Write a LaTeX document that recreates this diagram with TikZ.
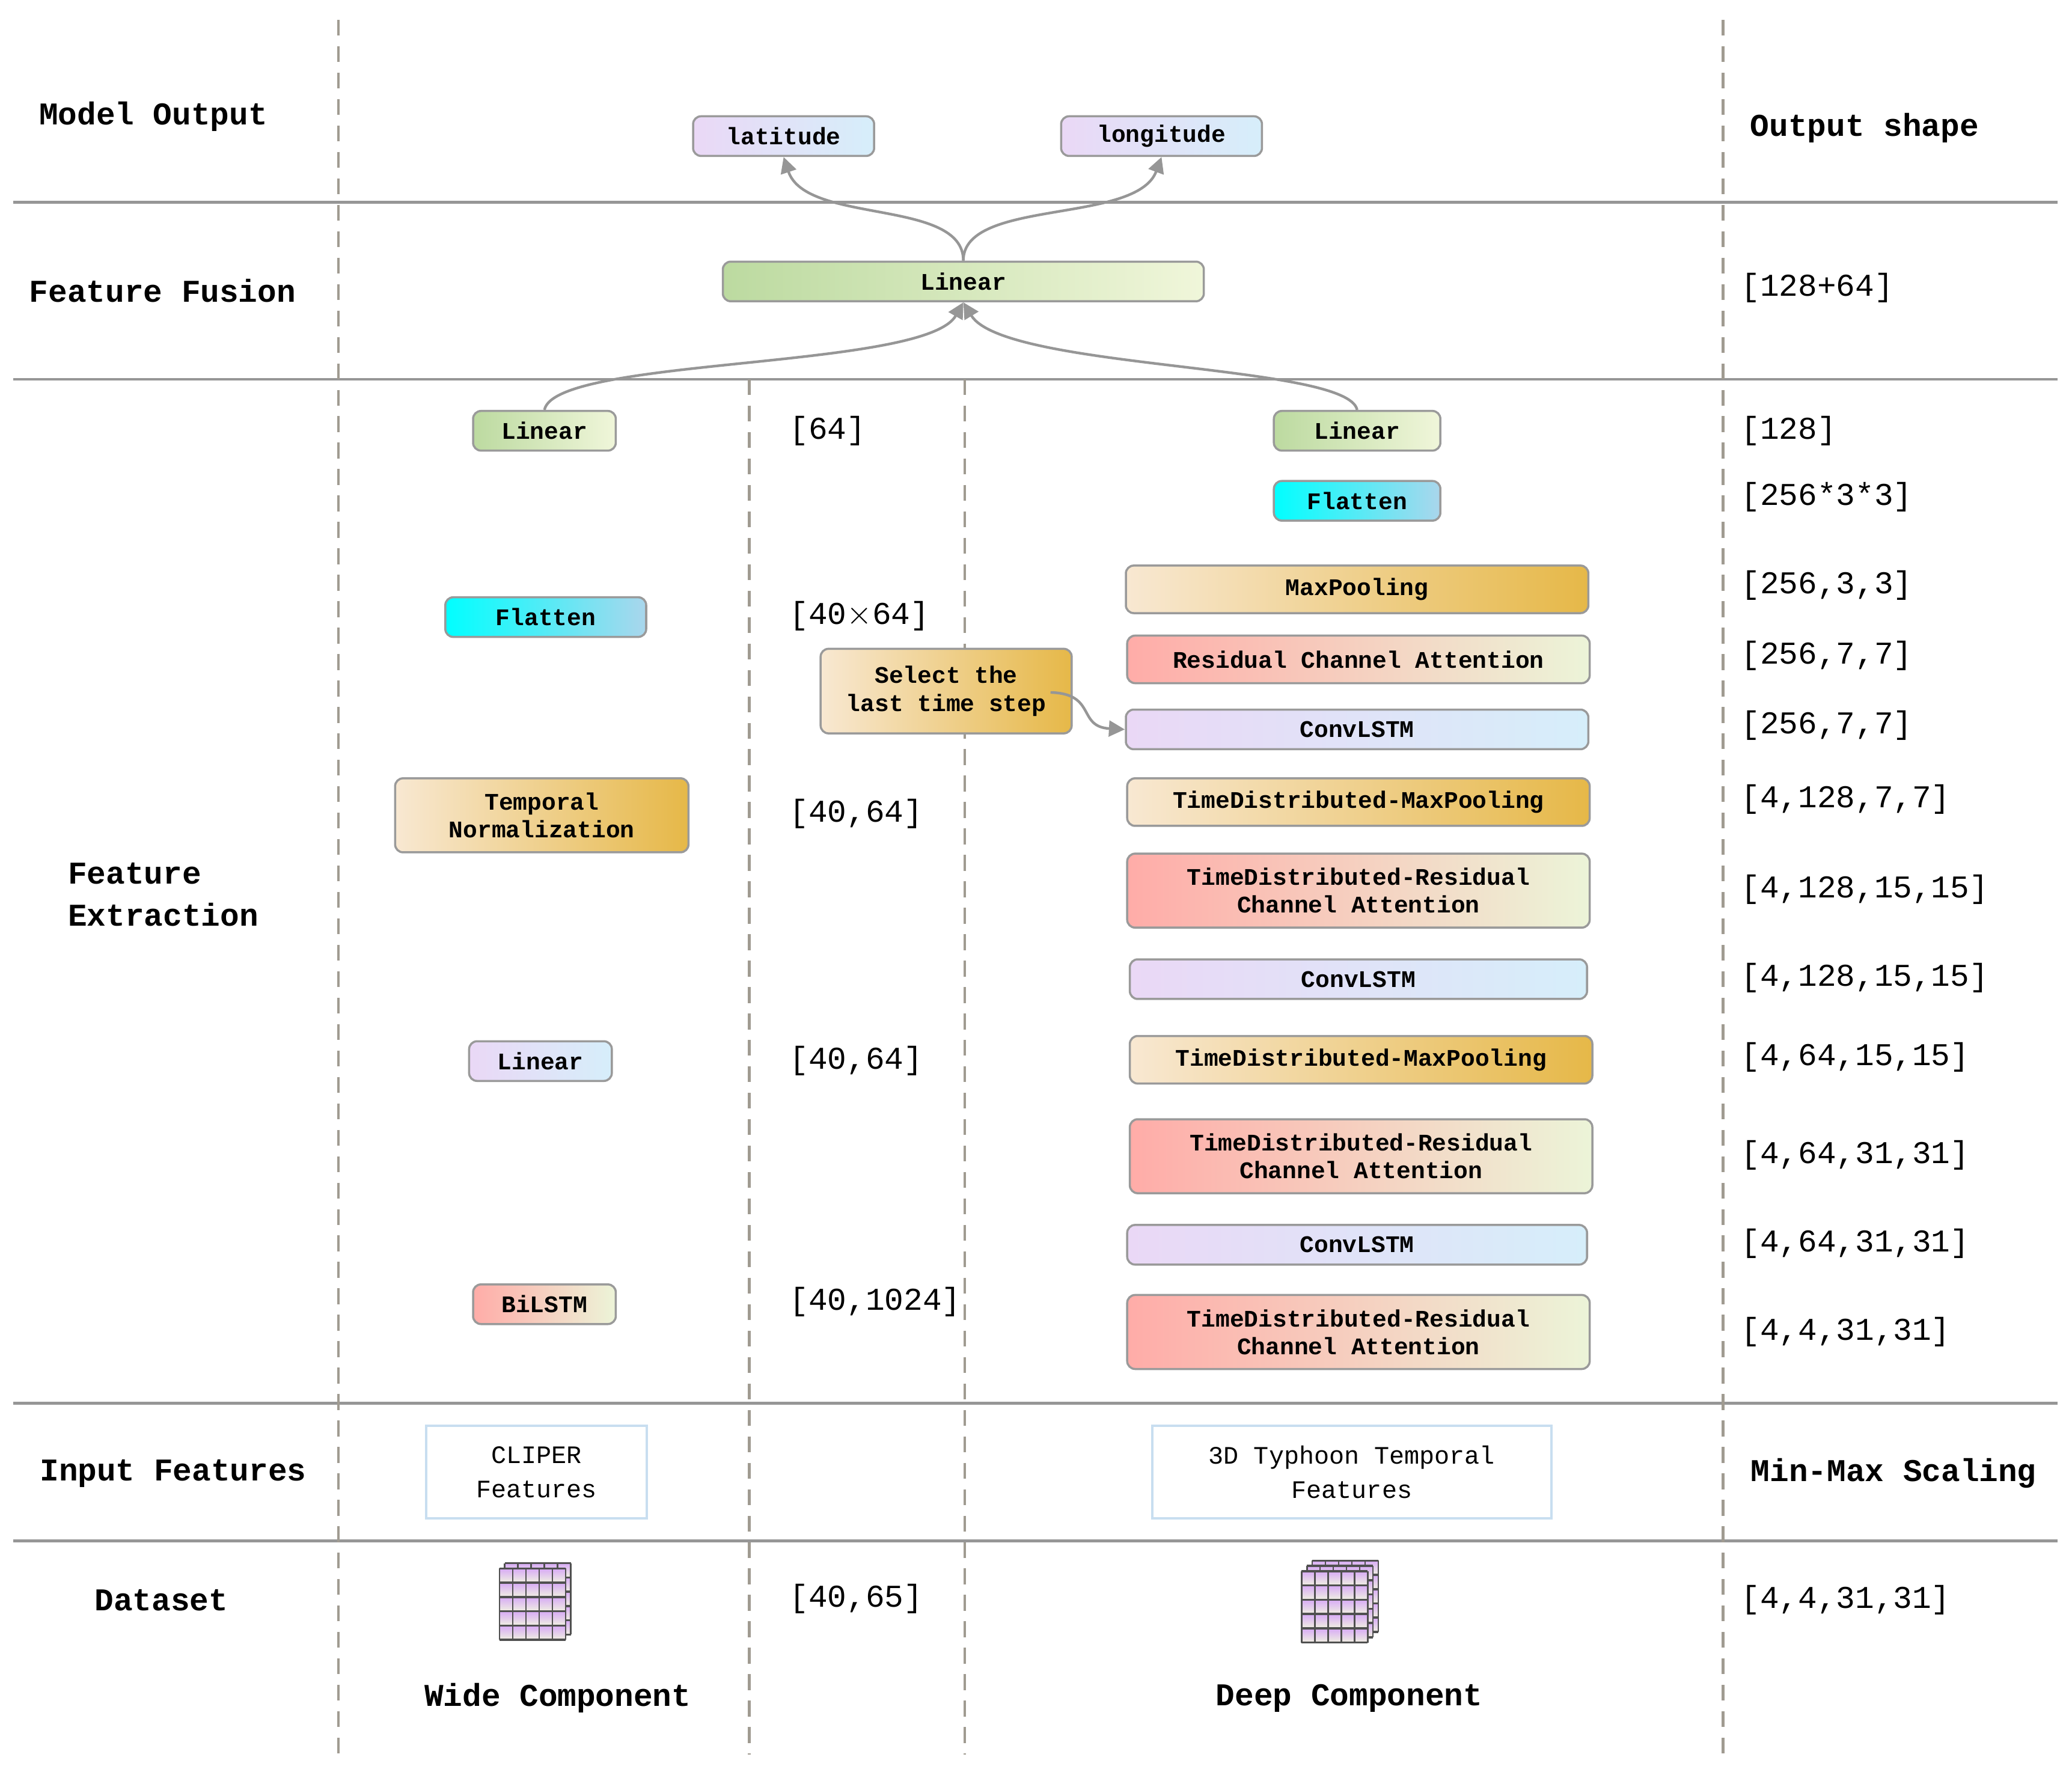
\documentclass[tikz,border=0pt]{standalone}
\usepackage{fontspec}
\setmainfont{Liberation Mono}
\usetikzlibrary{arrows.meta}
\definecolor{bd}{HTML}{9A9A9A}
\begin{document}
\begin{tikzpicture}[x=1pt,y=-1pt,
 box/.style={draw=bd,line width=1.6pt,rounded corners=6pt,font=\fontsize{18}{21}\selectfont\bfseries,align=center,inner sep=0pt,minimum height=30pt},
 green/.style={box,left color={rgb,255:red,188;green,218;blue,160},right color={rgb,255:red,240;green,246;blue,218}},
 pb/.style={box,left color={rgb,255:red,234;green,216;blue,246},right color={rgb,255:red,214;green,238;blue,250}},
 cy/.style={box,left color={rgb,255:red,0;green,255;blue,255},right color={rgb,255:red,170;green,214;blue,236}},
 og/.style={box,left color={rgb,255:red,248;green,232;blue,210},right color={rgb,255:red,230;green,184;blue,72}},
 rg/.style={box,left color={rgb,255:red,255;green,172;blue,168},right color={rgb,255:red,236;green,244;blue,216}},
 inp/.style={draw={rgb,255:red,200;green,222;blue,240},line width=2pt,font=\fontsize{19}{26}\selectfont,align=center,minimum height=70pt},
 lab/.style={font=\fontsize{24}{32}\selectfont\bfseries,align=left},
 shp/.style={font=\fontsize{24}{30}\selectfont,anchor=west},
 sep/.style={draw={rgb,255:red,150;green,150;blue,150},line width=2.2pt},
 dsh/.style={draw={rgb,255:red,160;green,155;blue,145},line width=2pt,dash pattern=on 12pt off 8pt},
 con/.style={draw={rgb,255:red,150;green,150;blue,150},line width=2pt,-{Triangle[length=12pt,width=12pt]}}]
\useasboundingbox (0,0) rectangle (1568,1341);
% separators
\foreach \y in {153,287,1062,1166} \draw[sep] (10,\y) -- (1557,\y);
\draw[dsh] (256,15) -- (256,1328);
\draw[dsh] (1304,15) -- (1304,1328);
\draw[dsh] (567,287) -- (567,1328);
\draw[dsh] (730,287) -- (730,1328);
% left labels
\node[lab] (l1) at (116,88) {Model Output};
\node[lab] (l2) at (123,220) {Feature Fusion};
\node[lab,anchor=west] (l3) at (48,677) {Feature\\ Extraction};
\node[lab] (l4) at (131,1115) {Input Features};
\node[lab] (l5) at (122,1211) {Dataset};
\node[lab] (o1) at (1411,97) {Output shape};
\node[lab] (o2) at (1433,1115) {Min-Max Scaling};
% right shapes
\node[shp] (s0) at (1314,218) {[128+64]};
\node[shp] (s1) at (1314,326) {[128]};
\node[shp] (s2) at (1314,376) {[256*3*3]};
\node[shp] (s3) at (1314,443) {[256,3,3]};
\node[shp] (s4) at (1314,496) {[256,7,7]};
\node[shp] (s5) at (1314,549) {[256,7,7]};
\node[shp] (s6) at (1314,605) {[4,128,7,7]};
\node[shp] (s7) at (1314,673) {[4,128,15,15]};
\node[shp] (s8) at (1314,740) {[4,128,15,15]};
\node[shp] (s9) at (1314,800) {[4,64,15,15]};
\node[shp] (s10) at (1314,874) {[4,64,31,31]};
\node[shp] (s11) at (1314,941) {[4,64,31,31]};
\node[shp] (s12) at (1314,1008) {[4,4,31,31]};
\node[shp] (s13) at (1314,1211) {[4,4,31,31]};
% middle shapes
\node[shp] (m1) at (594,326) {[64]};
\node[shp] (m2) at (594,466) {[40$\times$64]};
\node[shp] (m3) at (594,616) {[40,64]};
\node[shp] (m4) at (594,803) {[40,64]};
\node[shp] (m5) at (594,985) {[40,1024]};
\node[shp] (m6) at (594,1210) {[40,65]};
% nodes
\node[pb,minimum width=137pt] (lat) at (593,103) {latitude};
\node[pb,minimum width=152pt] (lon) at (879,103) {longitude};
\node[green,minimum width=364pt] (fus) at (729,213) {Linear};
\node[green,minimum width=108pt] (wl) at (412,326) {Linear};
\node[green,minimum width=126pt] (dl) at (1027,326) {Linear};
\node[cy,minimum width=126pt] (df) at (1027,379) {Flatten};
\node[cy,minimum width=152pt] (wf) at (413,467) {Flatten};
\node[og,minimum width=350pt,minimum height=36pt] (mp) at (1027,446) {MaxPooling};
\node[rg,minimum width=350pt,minimum height=36pt] (rca) at (1028,499) {Residual Channel Attention};
\node[pb,minimum width=350pt] (c1) at (1027,552) {ConvLSTM};
\node[og,minimum width=350pt,minimum height=36pt] (tm1) at (1028,607) {TimeDistributed-MaxPooling};
\node[rg,minimum width=350pt,minimum height=56pt] (tr1) at (1028,674) {TimeDistributed-Residual\\Channel Attention};
\node[pb,minimum width=346pt] (c2) at (1028,741) {ConvLSTM};
\node[og,minimum width=350pt,minimum height=36pt] (tm2) at (1030,802) {TimeDistributed-MaxPooling};
\node[rg,minimum width=350pt,minimum height=56pt] (tr2) at (1030,875) {TimeDistributed-Residual\\Channel Attention};
\node[pb,minimum width=348pt] (c3) at (1027,942) {ConvLSTM};
\node[rg,minimum width=350pt,minimum height=56pt] (tr3) at (1028,1008) {TimeDistributed-Residual\\Channel Attention};
\node[og,minimum width=190pt,minimum height=64pt] (sel) at (716,523) {Select the\\last time step};
\node[og,minimum width=222pt,minimum height=56pt] (tn) at (410,617) {Temporal\\Normalization};
\node[pb,minimum width=108pt] (wl2) at (409,803) {Linear};
\node[rg,minimum width=108pt] (bi) at (412,987) {BiLSTM};
\node[inp,minimum width=167pt] (cl) at (406,1114) {CLIPER\\Features};
\node[inp,minimum width=302pt] (td) at (1023,1114) {3D Typhoon Temporal\\Features};
\node[lab] (wc) at (422,1285) {Wide Component};
\node[lab] (dc) at (1021,1285) {Deep Component};
% connectors
\draw[con] (wl.north) .. controls (420,270) and (700,280) .. (fus.south);
\draw[con] (dl.north) .. controls (1020,275) and (760,280) .. (fus.south);
\draw[con] (fus.north) .. controls (729,150) and (610,170) .. (lat.south);
\draw[con] (fus.north) .. controls (729,150) and (860,170) .. (lon.south);
\coordinate (sa) at (795,524);
\draw[con] (sa) .. controls (830,525) and (815,550) .. (c1.west);
% icons
\newcommand\gridicon[3]{%
 \begin{scope}[shift={(#1,#2)}]
 \foreach \k in {#3,...,0}{
  \begin{scope}[shift={(\k*4,-\k*4)}]
  \foreach \r in {0,...,4} \foreach \c in {0,...,4}
   \shade[top color={rgb,255:red,215;green,170;blue,245},bottom color={rgb,255:red,240;green,240;blue,225}] (\c*10,\r*10.8) rectangle ++(10,10.8);
  \foreach \i in {0,...,5} \draw[line width=1.6pt,draw={rgb,255:red,80;green,80;blue,80}] (0,\i*10.8) -- (50,\i*10.8);
  \foreach \i in {0,...,5} \draw[line width=1.2pt,draw={rgb,255:red,80;green,80;blue,80}] (\i*10,0) -- (\i*10,54);
  \end{scope}}
 \end{scope}}
\gridicon{378}{1187}{1}
\gridicon{985}{1189}{2}
\end{tikzpicture}
\end{document}
